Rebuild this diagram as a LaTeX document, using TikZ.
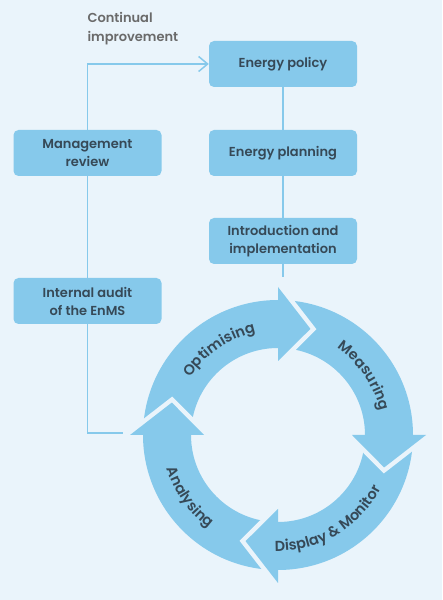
\documentclass[tikz,border=0pt]{standalone}
\usepackage{fontspec}
\setmainfont{Poppins SemiBold}
\usetikzlibrary{arrows.meta,decorations.text}

\definecolor{bgblue}{HTML}{EAF4FB}
\definecolor{boxblue}{HTML}{86C9EB}
\definecolor{txtdark}{HTML}{364957}
\definecolor{txtgrey}{HTML}{6A6A6A}

\begin{document}
\begin{tikzpicture}[x=1pt, y=1pt,
    stage/.style={fill=boxblue, rounded corners=5pt, minimum width=148pt, minimum height=46pt,
        inner sep=0pt, align=center, text=txtdark, font=\fontsize{13}{18}\selectfont},
    link/.style={draw=boxblue, line width=1.5pt}]

    % Background
    \fill[bgblue] (0,0) rectangle (442,600);
    \useasboundingbox (0,0) rectangle (442,600);

    % Stages
    \node[stage] (policy)   at (283,536) {Energy policy};
    \node[stage] (planning) at (283,447) {Energy planning};
    \node[stage] (intro)    at (283,359) {Introduction and\\implementation};
    \node[stage] (review)   at (87.5,447) {Management\\review};
    \node[stage] (audit)    at (87.5,299) {Internal audit\\of the EnMS};

    \node[anchor=north west, align=left, text=txtgrey, font=\fontsize{13}{18.5}\selectfont]
        (improve) at (84,591) {Continual\\improvement};

    % Links
    \coordinate (introend) at (283,323);
    \coordinate (auditend) at (123,167);
    \draw[link] (policy) -- (planning);
    \draw[link] (planning) -- (intro);
    \draw[link] (intro) -- (introend);
    \draw[link, -{Straight Barb[length=9pt, width=15pt]}] (review) |- (policy);
    \draw[link] (review) -- (audit);
    \draw[link] (audit) |- (auditend);

    % Cycle ring
    \coordinate (c) at (278,165);
    \fill[boxblue, even odd rule] (c) circle (135) (c) circle (87);

    % Arrow heads with gap
    \foreach \b in {90,0,-90,180} {
        \draw[bgblue, line width=9pt, line join=miter]
            ([shift={(\b:148)}]c) -- ([shift={({\b-17}:111)}]c) -- ([shift={(\b:74)}]c);
        \fill[boxblue]
            ([shift={(\b:148)}]c) -- ([shift={({\b-17}:111)}]c) -- ([shift={(\b:74)}]c) -- cycle;
    }

    % Ring labels
    \path[decorate, decoration={text along path, text align=center,
        text={|\fontsize{14.5}{17}\selectfont\color{txtdark}|Optimising}}]
        ([shift={(170:105)}]c) arc[start angle=170, end angle=79, radius=105];
    \path[decorate, decoration={text along path, text align=center,
        text={|\fontsize{14.5}{17}\selectfont\color{txtdark}|Measuring}}]
        ([shift={(80:105)}]c) arc[start angle=80, end angle=-11, radius=105];
    \path[decorate, decoration={text along path, text align=center,
        text={|\fontsize{14.5}{17}\selectfont\color{txtdark}|Display {\&} Monitor}}]
        ([shift={(-106:116)}]c) arc[start angle=-106, end angle=-13, radius=116];
    \path[decorate, decoration={text along path, text align=center,
        text={|\fontsize{14.5}{17}\selectfont\color{txtdark}|Analysing}}]
        ([shift={(170:116)}]c) arc[start angle=170, end angle=260, radius=116];

\end{tikzpicture}
\end{document}
